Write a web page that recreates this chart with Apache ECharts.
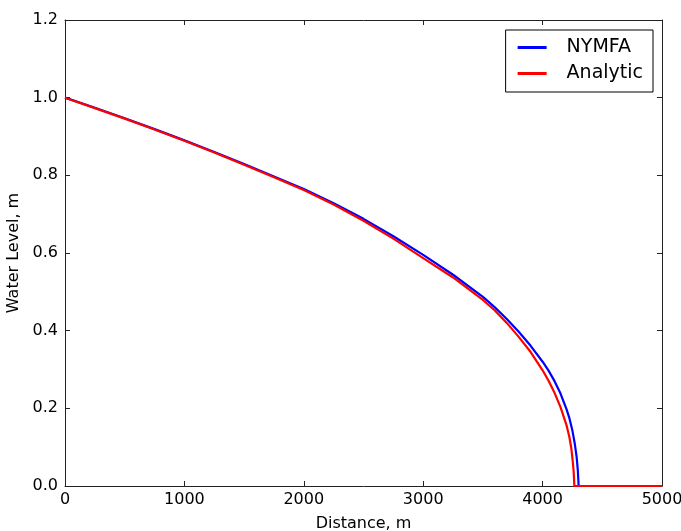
<!DOCTYPE html>
<html>
<head>
<meta charset="utf-8">
<script src="https://cdn.jsdelivr.net/npm/echarts@6/dist/echarts.min.js"></script>
<style>
html,body{margin:0;padding:0;background:#fff;}
#chart{width:681px;height:531px;}
</style>
</head>
<body>
<div id="chart"></div>
<script>
var nymfaDistance = [0, 250, 500, 750, 1000, 1250, 1500, 1750, 2000, 2250, 2500, 2750, 3000, 3250, 3500, 3600, 3700, 3800, 3900, 4000, 4050, 4100, 4150, 4200, 4225, 4250, 4270, 4285, 4295, 4302, 5000];
var nymfaLevel    = [1.0, 0.974, 0.947, 0.919, 0.890, 0.860, 0.829, 0.797, 0.765, 0.728, 0.688, 0.643, 0.595, 0.544, 0.487, 0.460, 0.430, 0.397, 0.361, 0.320, 0.297, 0.270, 0.238, 0.198, 0.174, 0.142, 0.108, 0.075, 0.040, 0.0, 0.0];
var analyticDistance = [0, 250, 500, 750, 1000, 1250, 1500, 1750, 2000, 2250, 2500, 2750, 3000, 3250, 3500, 3600, 3700, 3800, 3900, 4000, 4050, 4100, 4150, 4200, 4225, 4240, 4252, 4260, 4266, 5000];
var analyticLevel    = [1.0, 0.973, 0.946, 0.918, 0.889, 0.859, 0.827, 0.795, 0.762, 0.725, 0.683, 0.637, 0.587, 0.537, 0.479, 0.452, 0.420, 0.384, 0.345, 0.298, 0.271, 0.240, 0.203, 0.157, 0.125, 0.098, 0.065, 0.038, 0.0, 0.0];
var seriesNames = ['NYMFA', 'Analytic'];
var xTitle = 'Distance, m';
var yTitle = 'Water Level, m';

function pairs(xs, ys) { return xs.map(function (x, i) { return [x, ys[i]]; }); }

var font = 'DejaVu Sans';
var frame = '#222';
var chart = echarts.init(document.getElementById('chart'));
function axisCommon() {
  return {
    axisLine: { show: true, onZero: false, lineStyle: { color: frame, width: 1 } },
    axisTick: { show: true, inside: true, length: 5, lineStyle: { color: frame } },
    splitLine: { show: false }
  };
}
chart.setOption({
  animation: false,
  backgroundColor: '#fff',
  grid: { left: 65, right: 19, top: 20, bottom: 45, outerBoundsMode: 'none', containLabel: false },
  legend: {
    right: 28, top: 30,
    orient: 'vertical',
    data: seriesNames,
    icon: 'rect',
    itemWidth: 29, itemHeight: 3,
    itemGap: 7,
    padding: [8, 10, 9, 12],
    borderColor: '#000', borderWidth: 1,
    textStyle: { fontFamily: font, fontSize: 19, color: '#000', padding: [0, 0, 0, 15] }
  },
  xAxis: [
    Object.assign(axisCommon(), {
      type: 'value', min: 0, max: 5000, interval: 1000, position: 'bottom',
      name: xTitle, nameLocation: 'middle', nameGap: 30,
      nameTextStyle: { fontFamily: font, fontSize: 16, color: '#000' },
      axisLabel: { fontFamily: font, fontSize: 16, color: '#000', margin: 6,
        formatter: function (v) { return String(v); } }
    }),
    Object.assign(axisCommon(), {
      type: 'value', min: 0, max: 5000, interval: 1000, position: 'top',
      axisLabel: { show: false }
    })
  ],
  yAxis: [
    Object.assign(axisCommon(), {
      type: 'value', min: 0, max: 1.2, interval: 0.2, position: 'left',
      name: yTitle, nameLocation: 'middle', nameGap: 40, nameRotate: 90,
      nameTextStyle: { fontFamily: font, fontSize: 16, color: '#000' },
      axisLabel: { fontFamily: font, fontSize: 16, color: '#000', margin: 7,
        formatter: function (v) { return v.toFixed(1); } }
    }),
    Object.assign(axisCommon(), {
      type: 'value', min: 0, max: 1.2, interval: 0.2, position: 'right',
      axisLabel: { show: false }
    })
  ],
  series: [
    { name: seriesNames[0], type: 'line', data: pairs(nymfaDistance, nymfaLevel),
      symbol: 'none', smooth: false, lineStyle: { color: '#0000ff', width: 2.2 }, itemStyle: { color: '#0000ff' } },
    { name: seriesNames[1], type: 'line', data: pairs(analyticDistance, analyticLevel),
      symbol: 'none', smooth: false, lineStyle: { color: '#ff0000', width: 2.2 }, itemStyle: { color: '#ff0000' } }
  ]
});
</script>
</body>
</html>
